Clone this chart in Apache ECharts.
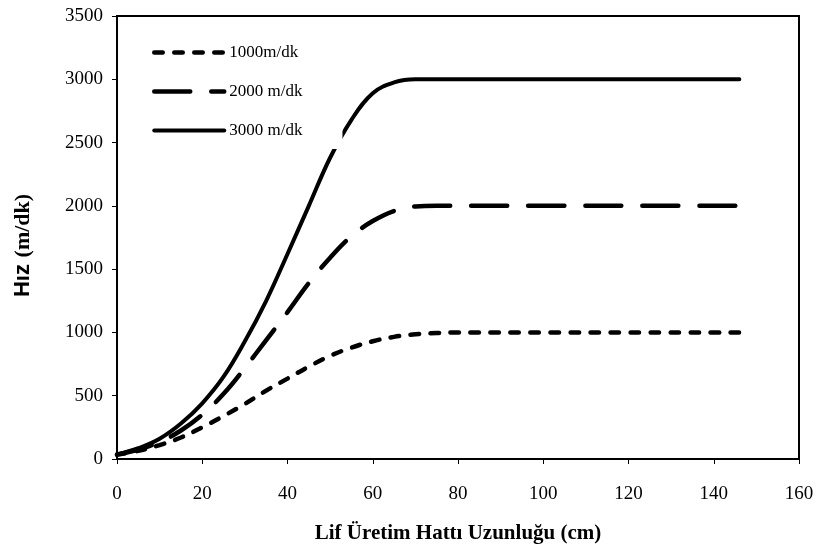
<!DOCTYPE html>
<html>
<head>
<meta charset="utf-8">
<script src="https://cdn.jsdelivr.net/npm/echarts@6/dist/echarts.min.js"></script>
<style>
  html, body { margin: 0; padding: 0; background: #fff; }
  #chart { width: 819px; height: 551px; }
</style>
</head>
<body>
<div id="chart"></div>
<script>
// Production line position (cm)
const positions = [0, 5, 10, 15, 20, 25, 30, 35, 40, 45, 50, 55, 60, 65, 70, 75, 80, 146];

// Fibre speed along the line (m/dk) for three take-up speeds
const speed1000 = [35, 65, 110, 170, 250, 340, 435, 540, 635, 730, 815, 880, 930, 965, 985, 995, 1000, 1000];
const speed2000 = [35, 75, 135, 225, 350, 515, 720, 940, 1160, 1390, 1590, 1760, 1880, 1960, 1995, 2000, 2000, 2000];
const speed3000 = [35, 85, 160, 280, 440, 650, 930, 1250, 1620, 2000, 2380, 2680, 2890, 2975, 3000, 3000, 3000, 3000];

const seriesNames = ['1000m/dk', '2000 m/dk', '3000 m/dk'];

const xTicks = { min: 0, max: 160, interval: 20 };
const yTicks = { min: 0, max: 3500, interval: 500 };

const pairs = (xs, ys) => xs.map((x, i) => [x, ys[i]]);

const serif = "'Liberation Serif', 'Times New Roman', serif";
const sans = "'Liberation Sans', Arial, sans-serif";

// Line styles shared by the curves and their legend samples
const styles = [
  { color: '#000', width: 4.5, type: [8.5, 11.5], cap: 'round' },
  { color: '#000', width: 4.5, type: [36, 21], cap: 'round' },
  { color: '#000', width: 4, type: 'solid', cap: 'round' }
];

const chart = echarts.init(document.getElementById('chart'), null, { renderer: 'canvas' });

chart.setOption({
  animation: false,
  backgroundColor: '#fff',
  color: ['#000', '#000', '#000'],
  grid: {
    left: 117, top: 16, right: 20, bottom: 92,
    show: true, borderColor: '#000', borderWidth: 2, backgroundColor: 'transparent'
  },
  legend: {
    orient: 'vertical',
    left: 144, top: 34,
    padding: [10, 40, 10, 8],
    backgroundColor: '#fff',
    itemWidth: 70, itemHeight: 14, itemGap: 22,
    itemStyle: { opacity: 0 },
    textStyle: { fontFamily: serif, fontSize: 17, color: '#000' },
    data: seriesNames.map((n, i) => ({ name: n, lineStyle: Object.assign({}, styles[i]) }))
  },
  xAxis: {
    type: 'value',
    min: xTicks.min, max: xTicks.max, interval: xTicks.interval,
    name: 'Lif Üretim Hattı Uzunluğu (cm)',
    nameLocation: 'middle', nameGap: 64,
    nameTextStyle: { fontFamily: serif, fontWeight: 'bold', fontSize: 21, color: '#000' },
    axisLine: { show: true, lineStyle: { color: '#000', width: 2 } },
    axisTick: { show: true, inside: false, length: 5, lineStyle: { color: '#000', width: 1 } },
    axisLabel: { margin: 26, fontFamily: serif, fontSize: 19, color: '#000', formatter: v => String(v) },
    splitLine: { show: false }
  },
  yAxis: {
    type: 'value',
    min: yTicks.min, max: yTicks.max, interval: yTicks.interval,
    name: '{a|Hız}  {b|(m/dk)}',
    nameLocation: 'middle', nameGap: 83,
    nameTextStyle: {
      color: '#000',
      padding: [0, 16, 0, 0],
      rich: {
        a: { fontFamily: sans, fontWeight: 'bold', fontSize: 22, color: '#000' },
        b: { fontFamily: serif, fontWeight: 'bold', fontSize: 22, color: '#000' }
      }
    },
    axisLine: { show: true, lineStyle: { color: '#000', width: 2 } },
    axisTick: { show: true, inside: false, length: 5, lineStyle: { color: '#000', width: 1 } },
    axisLabel: { margin: 14, fontFamily: serif, fontSize: 19, color: '#000', formatter: v => String(v) },
    splitLine: { show: false }
  },
  series: [speed1000, speed2000, speed3000].map((vals, i) => ({
    name: seriesNames[i], type: 'line', data: pairs(positions, vals),
    smooth: 0.4, symbol: 'none', z: 2,
    itemStyle: { color: '#000' },
    lineStyle: styles[i]
  }))
});
</script>
</body>
</html>
